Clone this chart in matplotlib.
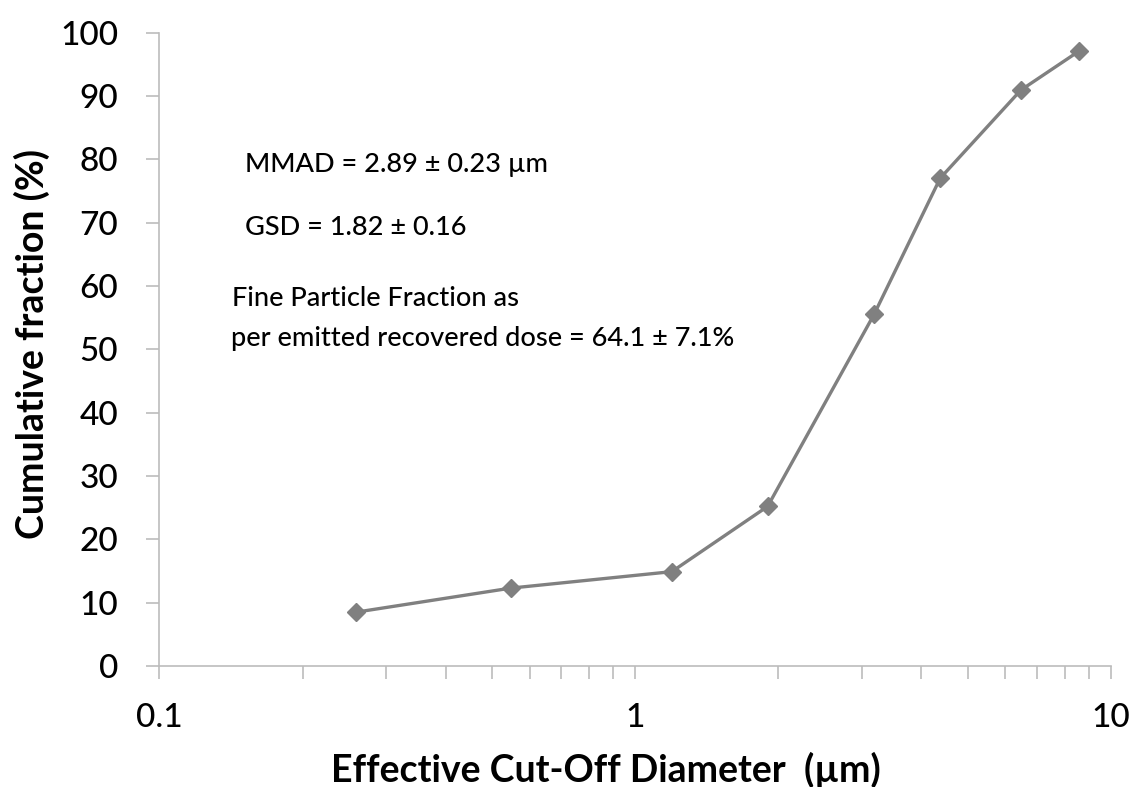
import matplotlib
matplotlib.use("Agg")
import matplotlib.pyplot as plt
from matplotlib.ticker import LogLocator, FixedLocator, NullFormatter

plt.rcParams['font.family'] = ['Lato', 'DejaVu Sans']

# Data
diameter_um = [0.259, 0.548, 1.195, 1.90, 3.18, 4.38, 6.47, 8.59]
cumulative_pct = [8.5, 12.3, 14.9, 25.2, 55.5, 77.0, 90.9, 97.1]
x_ticks = [0.1, 1, 10]
x_tick_labels = ["0.1", "1", "10"]
y_ticks = list(range(0, 101, 10))
annotations = ["MMAD = 2.89 \u00b1 0.23 \u00b5m",
               "GSD = 1.82 \u00b1 0.16",
               "Fine Particle Fraction as",
               "per emitted recovered dose = 64.1 \u00b1 7.1%"]

fig = plt.figure(figsize=(11.34, 7.87), dpi=100)
ax = fig.add_axes([0.1405, 0.1537, 0.839, 0.805])

ax.plot(diameter_um, cumulative_pct, color='#808080', linewidth=2.4,
        marker='D', markersize=9.5, markerfacecolor='#808080', markeredgecolor='#808080')

ax.set_xscale('log')
ax.set_xlim(0.1, 10)
ax.set_ylim(0, 100)
ax.xaxis.set_major_locator(FixedLocator(x_ticks))
ax.set_xticklabels(x_tick_labels)
ax.xaxis.set_minor_locator(LogLocator(base=10, subs=range(2, 10)))
ax.xaxis.set_minor_formatter(NullFormatter())
ax.set_yticks(y_ticks)

for s in ['top', 'right']:
    ax.spines[s].set_visible(False)
for s in ['left', 'bottom']:
    ax.spines[s].set_color('#bcbcbc')
    ax.spines[s].set_linewidth(1.2)

ax.tick_params(axis='both', which='both', direction='out', color='#bcbcbc',
               width=1.2, length=9.5, labelsize=24, labelcolor='black')
ax.tick_params(axis='x', which='major', pad=17)
ax.tick_params(axis='y', which='major', pad=20)
for lbl in ax.get_xticklabels() + ax.get_yticklabels():
    lbl.set_fontweight('medium')

ax.set_xlabel("Effective Cut-Off Diameter  (\u00b5m)", fontsize=27, fontweight='bold', va='center')
ax.xaxis.set_label_coords(0.4695, -0.164)
ax.set_ylabel("Cumulative fraction (%)", fontsize=27, fontweight='bold', va='center')
ax.yaxis.set_label_coords(-0.134, 0.508)

ax.text(0.0896, 0.7795, annotations[0], transform=ax.transAxes, fontsize=19.5, fontweight='medium', va='baseline', ha='left')
ax.text(0.0900, 0.680, annotations[1], transform=ax.transAxes, fontsize=19.5, fontweight='medium', va='baseline', ha='left')
ax.text(0.0764, 0.5687, annotations[2], transform=ax.transAxes, fontsize=19.5, fontweight='medium', va='baseline', ha='left')
ax.text(0.0757, 0.5056, annotations[3], transform=ax.transAxes, fontsize=19.5, fontweight='medium', va='baseline', ha='left')

fig.savefig("out.png", dpi=100)
